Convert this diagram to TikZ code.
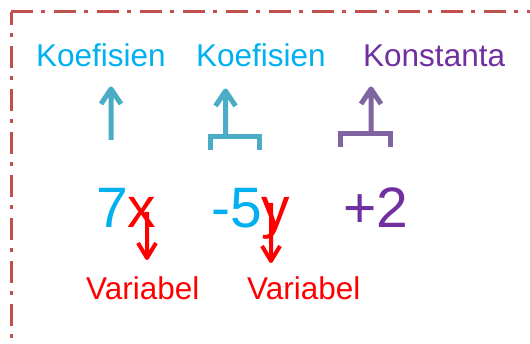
\documentclass[tikz,border=0pt]{standalone}
\usepackage{fontspec}
\setmainfont{Liberation Sans}
\definecolor{txtblue}{HTML}{00B0F0}
\definecolor{txtpurple}{HTML}{7030A0}
\definecolor{arrteal}{HTML}{4BACC6}
\definecolor{arrpurple}{HTML}{8064A2}
\definecolor{framered}{HTML}{C0504D}
\definecolor{varred}{HTML}{FF0000}
\tikzset{
  lbl/.style={anchor=base west, inner sep=0pt, font=\fontsize{31.5}{37}\selectfont},
  eqn/.style={anchor=base west, inner sep=0pt, font=\fontsize{57}{68}\selectfont},
  frameline/.style={draw=framered, line width=3pt, dash pattern=on 22pt off 8pt on 4pt off 9pt},
  uparrow/.style={line width=5pt, line join=round, line cap=butt},
  bracket/.style={line width=5pt, line join=miter},
  downarrow/.style={draw=varred, line width=4pt, line join=round},
  shadow/.style={draw=black!18, line width=5pt, line join=round, shift={(1.5pt,-2pt)}}
}
\begin{document}
\begin{tikzpicture}[x=1pt,y=-1pt]
\useasboundingbox (0,0) rectangle (530,344);
\fill[white] (0,0) rectangle (530,344);
% frame
\coordinate (fc) at (11,12);
\coordinate (fr) at (532,12);
\coordinate (fb) at (11,346);
\draw[frameline] (fc) -- (fr);
\draw[frameline, dash phase=9pt] (fc) -- (fb);
% top labels
\node[lbl, text=txtblue] (k1) at (36,67) {Koefisien};
\node[lbl, text=txtblue] (k2) at (196,67) {Koefisien};
\node[lbl, text=txtpurple] (k3) at (363,67) {Konstanta};
% equation
\node[eqn] (t1) at (96,228) {\textcolor{txtblue}{7}\textcolor{varred}{x}};
\node[eqn] (t2) at (211,228) {\textcolor{txtblue}{-5}\textcolor{varred}{y}};
\node[eqn, text=txtpurple] (t3) at (343,228) {+2};
% bottom labels
\node[lbl, text=varred] (v1) at (86,300) {Variabel};
\node[lbl, text=varred] (v2) at (247,300) {Variabel};
% up arrow 1
\coordinate (a1s) at (111,140);
\coordinate (a1t) at (111,89);
\draw[uparrow, draw=arrteal] (a1s) -- (a1t) ++(-10,15) -- (a1t) -- ++(10,15);
% up arrow 2 with bracket
\coordinate (a2s) at (225.5,137);
\coordinate (a2t) at (225.5,91);
\coordinate (b2l) at (210.5,150);
\coordinate (b2r) at (259.5,150);
\draw[bracket, draw=arrteal] (b2l) |- (a2s) -| (b2r);
\draw[uparrow, draw=arrteal] (a2s) -- (a2t) ++(-10,15) -- (a2t) -- ++(10,15);
% up arrow 3 with bracket
\coordinate (a3s) at (371,134);
\coordinate (a3t) at (371,89);
\coordinate (b3l) at (340.5,147);
\coordinate (b3r) at (390.5,147);
\draw[bracket, draw=arrpurple] (b3l) |- (a3s) -| (b3r);
\draw[uparrow, draw=arrpurple] (a3s) -- (a3t) ++(-10,15) -- (a3t) -- ++(10,15);
% down arrows
\coordinate (d1s) at (147,212);
\coordinate (d1t) at (147,258);
\draw[downarrow] (d1s) -- (d1t) ++(-9,-15) -- (d1t) -- ++(9,-15);
\coordinate (d2s) at (271,203);
\coordinate (d2t) at (271,261);
\draw[downarrow] (d2s) -- (d2t) ++(-9,-15) -- (d2t) -- ++(9,-15);
\end{tikzpicture}
\end{document}
